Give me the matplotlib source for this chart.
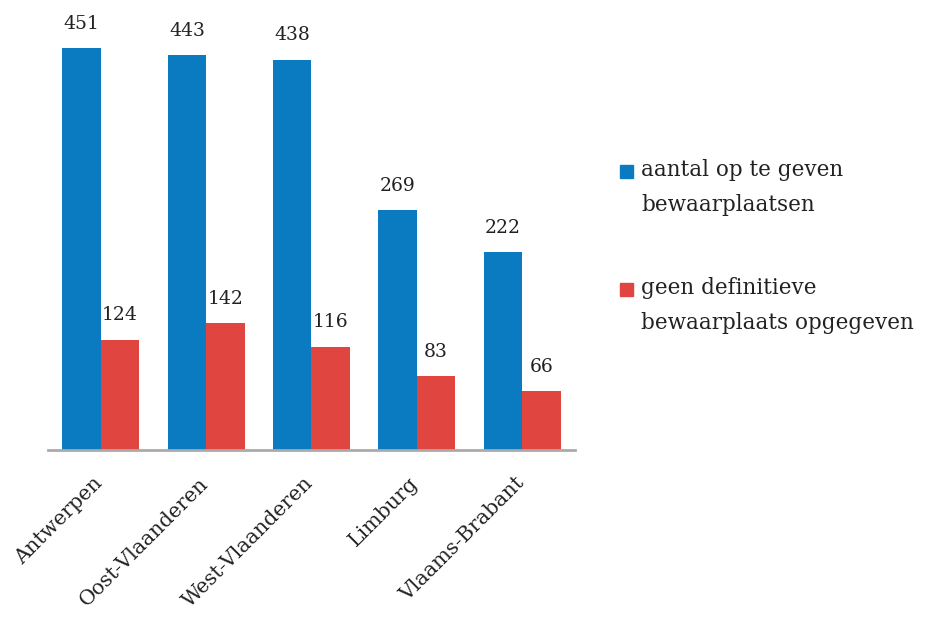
import numpy as np
import matplotlib.pyplot as plt
import matplotlib.transforms as mtransforms
from matplotlib.patches import Rectangle

# data
provincies = ["Antwerpen", "Oost-Vlaanderen", "West-Vlaanderen", "Limburg", "Vlaams-Brabant"]
op_te_geven = [451, 443, 438, 269, 222]
geen_definitief = [124, 142, 116, 83, 66]
reeks_namen = ["aantal op te geven\nbewaarplaatsen", "geen definitieve\nbewaarplaats opgegeven"]

blauw = "#0a7bc1"
rood = "#e0463f"
plt.rcParams["font.family"] = ["DejaVu Serif"]

fig = plt.figure(figsize=(9.28, 6.19), dpi=100)
ax = fig.add_axes([48/928, 1 - 450/619, 527/928, 450/619])

x = np.arange(len(provincies))
w = 0.365
b1 = ax.bar(x - w/2, op_te_geven, w, color=blauw)
b2 = ax.bar(x + w/2, geen_definitief, w, color=rood)

for bars in (b1, b2):
    ax.bar_label(bars, padding=11, fontsize=13.5, color="#222222")

ax.set_xlim(-0.5, len(provincies) - 0.5)
ax.set_ylim(0, 505)
ax.set_yticks([])
ax.set_xticks(x)
ax.set_xticklabels(provincies, rotation=45, ha="right", rotation_mode="anchor",
                   fontsize=14.8, color="#222222")
ax.tick_params(axis="x", length=0, pad=17)
verschuif = mtransforms.ScaledTranslation(-8/100, 0, fig.dpi_scale_trans)
for lbl in ax.get_xticklabels():
    lbl.set_transform(lbl.get_transform() + verschuif)
for s in ["top", "right", "left"]:
    ax.spines[s].set_visible(False)
ax.spines["bottom"].set_color("#aaaaaa")
ax.spines["bottom"].set_linewidth(2)

# legenda
for i, (naam, kleur) in enumerate(zip(reeks_namen, [blauw, rood])):
    ytop = 1 - (165 + i * 118) / 619
    fig.patches.append(Rectangle((620/928, ytop - 13/619), 13/928, 13/619,
                                 transform=fig.transFigure, color=kleur))
    fig.text(641/928, ytop + 6/619, naam, fontsize=15.5, va="top", ha="left",
             linespacing=1.75, color="#222222")

fig.savefig("out.png", dpi=100)
